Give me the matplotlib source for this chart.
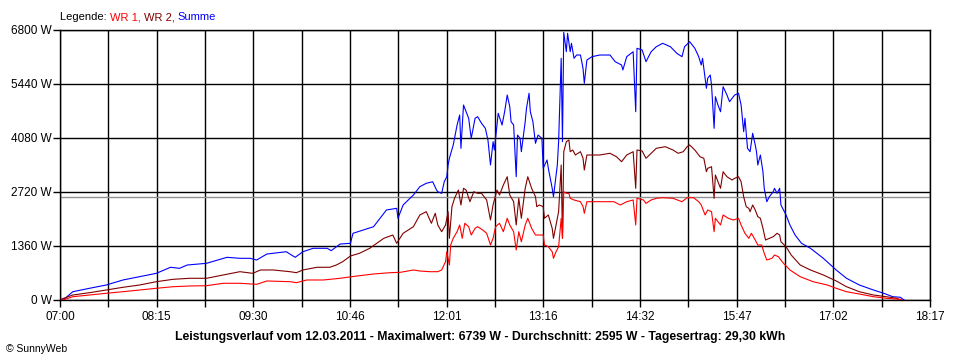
import matplotlib
matplotlib.use("Agg")
import matplotlib.pyplot as plt
import numpy as np

plt.rcParams['font.family'] = ['Liberation Sans', 'DejaVu Sans']

# --- data (time of day, watts) ---
summe_t = ["07:02", "07:04", "07:10", "07:23", "07:36", "07:49", "08:02", "08:15", "08:26", "08:33",
           "08:39", "08:54", "09:10", "09:20", "09:28", "09:33", "09:41", "09:56", "10:03", "10:09",
           "10:17", "10:28", "10:31", "10:38", "10:46", "10:48", "11:04", "11:14", "11:22", "11:23",
           "11:27", "11:35", "11:40", "11:45", "11:50", "11:53", "11:54", "11:57", "11:59", "12:01",
           "12:02", "12:03", "12:06", "12:07", "12:09", "12:11", "12:12", "12:14", "12:16", "12:18",
           "12:20", "12:23", "12:25", "12:28", "12:31", "12:33", "12:35", "12:37", "12:38", "12:40",
           "12:41", "12:44", "12:46", "12:48", "12:50", "12:51", "12:53", "12:55", "12:56", "12:58",
           "12:59", "13:02", "13:03", "13:05", "13:06", "13:08", "13:10", "13:12", "13:15", "13:16",
           "13:19", "13:20", "13:22", "13:23", "13:24", "13:26", "13:27", "13:28", "13:29", "13:30",
           "13:31", "13:32", "13:34", "13:35", "13:37", "13:38", "13:40", "13:42", "13:45", "13:47",
           "13:48", "13:50", "13:54", "14:00", "14:08", "14:12", "14:17", "14:18", "14:21", "14:26",
           "14:28", "14:29", "14:33", "14:36", "14:40", "14:44", "14:49", "14:55", "15:00", "15:04",
           "15:06", "15:10", "15:14", "15:17", "15:19", "15:20", "15:23", "15:24", "15:26", "15:27",
           "15:29", "15:30", "15:32", "15:34", "15:36", "15:39", "15:41", "15:45", "15:48", "15:50",
           "15:52", "15:53", "15:55", "15:57", "15:59", "16:01", "16:02", "16:03", "16:05", "16:07",
           "16:08", "16:10", "16:12", "16:15", "16:16", "16:18", "16:20", "16:21", "16:25", "16:28",
           "16:32", "16:37", "16:44", "16:54", "17:04", "17:12", "17:22", "17:33", "17:41", "17:48",
           "17:54", "17:56", "17:57"]
summe_w = [20, 43, 209, 295, 378, 504, 587, 672, 824, 798,
           881, 924, 1075, 1050, 1050, 1007, 1158, 1216, 1075, 1216,
           1302, 1302, 1242, 1410, 1428, 1680, 1846, 2267, 2309, 2058,
           2393, 2644, 2853, 2939, 2979, 2770, 2727, 2687, 2979, 3105,
           3400, 3569, 3904, 4072, 4407, 4659, 3820, 4911, 4742, 4576,
           4072, 4576, 4617, 4450, 4324, 4030, 3400, 3987, 3778, 4407,
           4702, 4407, 4742, 5163, 4868, 4490, 4407, 3105, 4155, 4072,
           3735, 4490, 4828, 5206, 4742, 4490, 3946, 4155, 4072, 3317,
           3526, 3317, 2979, 2813, 2602, 3148, 3400, 3987, 5080, 6087,
           3987, 6739, 6253, 6717, 6253, 6465, 6087, 6170, 6170, 5835,
           5458, 6044, 6128, 6170, 6170, 6002, 5918, 5793, 6128, 6253,
           4742, 6339, 6296, 6002, 6253, 6379, 6465, 6379, 6213, 6128,
           6379, 6505, 6339, 6130, 5918, 6087, 5332, 5583, 5667, 5415,
           4324, 5120, 4911, 4742, 5372, 5163, 4994, 5163, 5206, 4911,
           4239, 4576, 3820, 3735, 4198, 3904, 3735, 3400, 3652, 3231,
           2813, 2476, 2602, 2727, 2813, 2687, 2813, 2393, 2141, 1889,
           1637, 1428, 1302, 1050, 756, 547, 378, 252, 169, 83,
           68, 18, 0]

wr2_t = ["07:01", "07:10", "07:23", "07:36", "07:49", "08:02", "08:15", "08:28", "08:41", "08:54",
         "09:07", "09:20", "09:30", "09:36", "09:46", "09:59", "10:04", "10:09", "10:20", "10:30",
         "10:35", "10:40", "10:46", "10:53", "11:01", "11:12", "11:19", "11:22", "11:27", "11:35",
         "11:40", "11:45", "11:49", "11:52", "11:54", "11:57", "12:00", "12:02", "12:03", "12:05",
         "12:07", "12:10", "12:12", "12:14", "12:16", "12:19", "12:22", "12:25", "12:28", "12:32",
         "12:35", "12:37", "12:40", "12:42", "12:45", "12:48", "12:50", "12:53", "12:55", "12:57",
         "12:59", "13:02", "13:04", "13:07", "13:10", "13:11", "13:13", "13:16", "13:17", "13:20",
         "13:23", "13:24", "13:26", "13:28", "13:30", "13:31", "13:32", "13:34", "13:36", "13:37",
         "13:39", "13:41", "13:45", "13:47", "13:48", "13:50", "13:55", "14:00", "14:08", "14:13",
         "14:17", "14:21", "14:26", "14:28", "14:29", "14:33", "14:36", "14:40", "14:44", "14:51",
         "14:57", "15:01", "15:05", "15:08", "15:10", "15:14", "15:18", "15:21", "15:23", "15:24",
         "15:27", "15:29", "15:30", "15:32", "15:34", "15:36", "15:39", "15:43", "15:45", "15:48",
         "15:50", "15:52", "15:54", "15:56", "15:57", "15:59", "16:01", "16:03", "16:05", "16:07",
         "16:09", "16:12", "16:15", "16:18", "16:20", "16:21", "16:25", "16:29", "16:36", "16:44",
         "16:54", "17:04", "17:12", "17:22", "17:33", "17:43", "17:51", "17:54"]
wr2_w = [20, 126, 184, 252, 320, 378, 461, 521, 547, 547,
         630, 713, 672, 756, 756, 713, 688, 756, 824, 824,
         881, 965, 1108, 1176, 1302, 1554, 1637, 1428, 1680, 1846,
         2141, 2224, 1932, 2184, 1889, 1720, 1889, 2224, 1554, 2350,
         2561, 2770, 2393, 2813, 2770, 2476, 2727, 2687, 2687, 2519,
         2015, 2393, 2770, 2644, 2896, 3105, 2644, 2476, 1889, 2561,
         2058, 2813, 3105, 2813, 2602, 2350, 2393, 2350, 2058, 2141,
         1806, 1554, 1889, 2224, 3400, 1554, 3735, 3987, 4030, 3735,
         3778, 3652, 3735, 3569, 3274, 3652, 3652, 3652, 3695, 3609,
         3483, 3652, 3735, 2813, 3778, 3753, 3569, 3695, 3820, 3861,
         3778, 3695, 3735, 3861, 3904, 3778, 3609, 3569, 3231, 3317,
         3357, 2561, 3148, 2979, 2813, 3231, 3105, 3022, 3065, 3105,
         2979, 2602, 2350, 2309, 2224, 2393, 2267, 2098, 2058, 1806,
         1511, 1554, 1594, 1680, 1637, 1468, 1342, 1133, 881, 756,
         630, 480, 335, 209, 126, 83, 43, 0]

wr1_t = ["07:02", "07:04", "07:10", "07:23", "07:36", "07:49", "08:02", "08:15", "08:28", "08:41",
         "08:54", "09:07", "09:20", "09:33", "09:41", "09:59", "10:04", "10:12", "10:25", "10:38",
         "10:51", "11:04", "11:17", "11:25", "11:35", "11:40", "11:48", "11:54", "11:57", "12:00",
         "12:01", "12:03", "12:04", "12:06", "12:09", "12:11", "12:13", "12:15", "12:18", "12:20",
         "12:23", "12:25", "12:29", "12:32", "12:35", "12:37", "12:39", "12:42", "12:45", "12:48",
         "12:50", "12:53", "12:55", "12:57", "12:59", "13:02", "13:04", "13:07", "13:10", "13:13",
         "13:16", "13:17", "13:20", "13:23", "13:24", "13:26", "13:28", "13:30", "13:31", "13:32",
         "13:34", "13:36", "13:37", "13:40", "13:45", "13:47", "13:48", "13:50", "13:55", "14:03",
         "14:11", "14:16", "14:21", "14:26", "14:28", "14:29", "14:34", "14:36", "14:40", "14:44",
         "14:49", "14:57", "15:04", "15:08", "15:13", "15:17", "15:19", "15:22", "15:24", "15:27",
         "15:29", "15:30", "15:34", "15:36", "15:40", "15:44", "15:48", "15:50", "15:53", "15:56",
         "15:58", "16:01", "16:03", "16:06", "16:08", "16:10", "16:14", "16:16", "16:19", "16:23",
         "16:28", "16:36", "16:46", "16:57", "17:04", "17:12", "17:22", "17:33", "17:43", "17:54",
         "17:55"]
wr1_w = [0, 18, 83, 126, 169, 209, 252, 295, 335, 353,
         360, 421, 421, 395, 479, 461, 436, 504, 504, 547,
         604, 655, 688, 698, 756, 730, 713, 713, 756, 965,
         1216, 881, 1385, 1554, 1720, 1889, 1554, 1932, 1846, 1637,
         1806, 1846, 1763, 1680, 1385, 1554, 1846, 1932, 1720, 2058,
         1889, 1720, 1259, 1720, 1468, 1889, 2058, 1806, 1637, 1637,
         1637, 1385, 1342, 1216, 1050, 1216, 1342, 2058, 1554, 2727,
         2687, 2687, 2561, 2519, 2476, 2350, 2184, 2476, 2476, 2476,
         2476, 2393, 2476, 2519, 1889, 2561, 2519, 2435, 2519, 2561,
         2576, 2561, 2476, 2576, 2576, 2476, 2393, 2141, 2267, 2224,
         1720, 2058, 1889, 2141, 2058, 2015, 2058, 1889, 1680, 1554,
         1680, 1511, 1385, 1385, 1176, 1007, 1050, 1133, 1091, 924,
         756, 587, 461, 378, 295, 209, 151, 83, 43, 18,
         0]

durchschnitt = 2595
y_ticks = [0, 1360, 2720, 4080, 5440, 6800]
x_labels = ["07:00", "08:15", "09:30", "10:46", "12:01", "13:16", "14:32", "15:47", "17:02", "18:17"]


def to_min(s):
    h, m = s.split(":")
    return int(h) * 60 + int(m)


t_start = to_min(x_labels[0])
t_end = to_min(x_labels[-1])

fig = plt.figure(figsize=(9.6, 3.6), dpi=100)
ax = fig.add_axes([60 / 960, 60 / 360, 870 / 960, 270 / 360])

# grid: every labelled tick plus one in between
grid_x = np.linspace(t_start, t_end, 2 * len(x_labels) - 1)
for gx in grid_x:
    ax.axvline(gx, color="black", lw=1.0, zorder=1)
for gy in y_ticks:
    ax.axhline(gy, color="black", lw=1.0, zorder=1)
ax.axhline(durchschnitt, color="#909090", lw=1.0, zorder=2)

lw = 0.8
ax.plot([to_min(s) for s in summe_t], summe_w, color="#0000ff", lw=lw, zorder=3)
ax.plot([to_min(s) for s in wr2_t], wr2_w, color="#800000", lw=lw, zorder=4)
ax.plot([to_min(s) for s in wr1_t], wr1_w, color="#ff0000", lw=lw, zorder=5)

ax.set_xlim(t_start, t_end)
ax.set_ylim(0, y_ticks[-1])
ax.set_xticks(grid_x[::2])
ax.set_xticklabels(x_labels)
ax.set_xticks(grid_x[1::2], minor=True)
ax.set_yticks(y_ticks)
ax.set_yticklabels([f"{v} W" for v in y_ticks])
ax.tick_params(axis="both", which="both", direction="out", length=5, width=1,
               labelsize=8.5, colors="black")
ax.tick_params(axis="x", pad=3)
ax.tick_params(axis="y", pad=1)
for sp in ax.spines.values():
    sp.set_linewidth(1.0)

# coloured legend line at the top
fig.canvas.draw()
renderer = fig.canvas.get_renderer()
x0 = 60 / 960
pieces = [("Legende: ", "black"), ("WR 1, ", "#ff0000"), ("WR 2, ", "#800000"), ("Summe", "#0000ff")]
for txt, col in pieces:
    t = fig.text(x0, 1 - 17 / 360, txt, color=col, fontsize=8, va="center", ha="left")
    bb = t.get_window_extent(renderer=renderer)
    x0 += bb.width / fig.bbox.width

fig.text(480 / 960, 1 - 337 / 360,
         "Leistungsverlauf vom 12.03.2011 - Maximalwert: 6739 W - Durchschnitt: 2595 W - Tagesertrag: 29,30 kWh",
         ha="center", va="center", fontsize=8.8, fontweight="bold")
fig.text(6 / 960, 1 - 349 / 360, "\u00a9 SunnyWeb", ha="left", va="center", fontsize=7.5)

fig.savefig("out.png", dpi=100)
